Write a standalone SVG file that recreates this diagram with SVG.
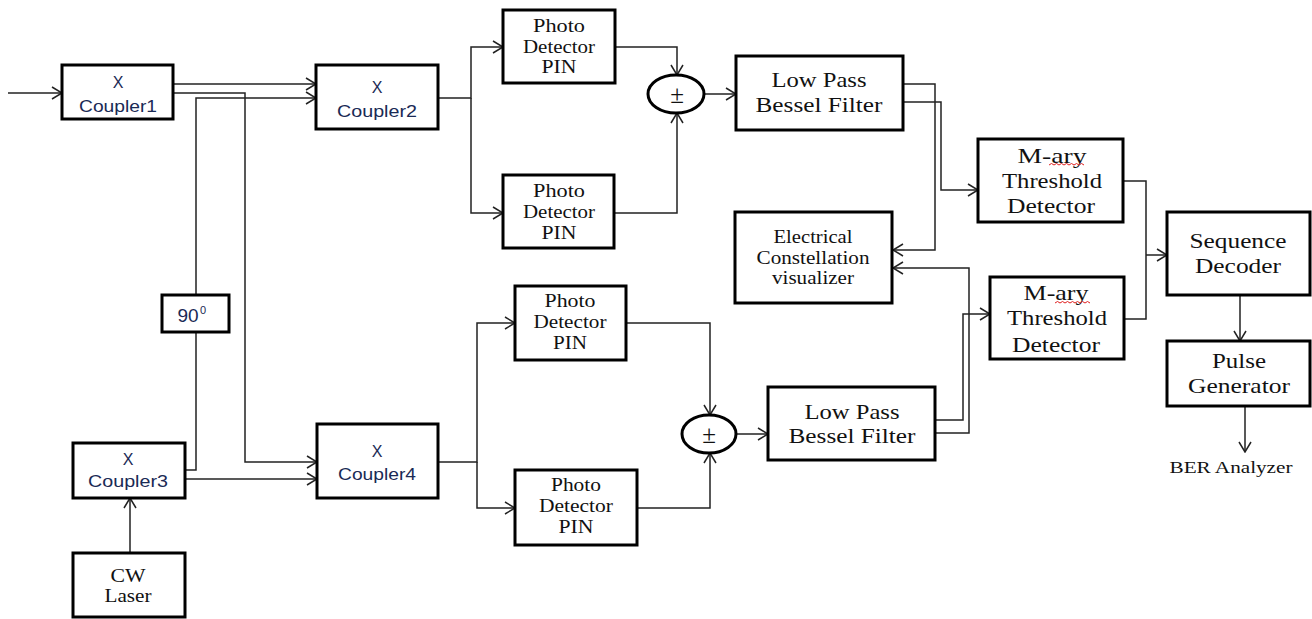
<svg xmlns="http://www.w3.org/2000/svg" width="1312" height="619" viewBox="0 0 1312 619">
<style>
.box{fill:#fff;stroke:#000;stroke-width:3}
.sum{fill:#fff;stroke:#000;stroke-width:3}
.wire{fill:none;stroke:#222;stroke-width:1.5}
.arr{marker-end:url(#ah)}
.sans{font-family:"Liberation Sans",Arial,sans-serif;fill:#1a2a55;text-anchor:middle}
.serif{font-family:"Liberation Serif","Times New Roman",serif;fill:#111;text-anchor:middle}
.sq{fill:none;stroke:#e02020;stroke-width:1}
</style>
<defs>
<marker id="ah" markerUnits="userSpaceOnUse" viewBox="0 0 12 14" markerWidth="12" markerHeight="14" refX="11" refY="7" orient="auto">
<path d="M1,1 L11,7 L1,13" fill="none" stroke="#222" stroke-width="1.5"/>
</marker>
</defs>
<rect width="1312" height="619" fill="#fff"/>

<g id="connectors">
<path class="wire arr" d="M8,93 H62"/>
<path class="wire arr" d="M173,84 H316"/>
<path class="wire arr" d="M173,93 H245 V462 H317"/>
<path class="wire arr" d="M196,295 V98 H316"/>
<path class="wire" d="M196,332 V470 H185"/>
<path class="wire arr" d="M185,479 H317"/>
<path class="wire arr" d="M130,553 V498"/>
<path class="wire arr" d="M438,98 H471 V47 H503"/>
<path class="wire arr" d="M471,98 V213 H503"/>
<path class="wire arr" d="M615,47 H677 V75"/>
<path class="wire arr" d="M614,213 H677 V113"/>
<path class="wire arr" d="M704,94 H736"/>
<path class="wire arr" d="M903,84 H935 V250 H893"/>
<path class="wire arr" d="M903,102 H941 V190 H978"/>
<path class="wire arr" d="M438,462 H477 V323 H515"/>
<path class="wire arr" d="M477,462 V508 H515"/>
<path class="wire arr" d="M626,323 H710 V415"/>
<path class="wire arr" d="M637,508 H710 V453"/>
<path class="wire arr" d="M737,434 H768"/>
<path class="wire arr" d="M935,420 H963 V314 H990"/>
<path class="wire arr" d="M935,433 H969 V268 H893"/>
<path class="wire" d="M1123,181 H1146 V319 H1124"/>
<path class="wire arr" d="M1146,255 H1167"/>
<path class="wire arr" d="M1240,295 V341"/>
<path class="wire arr" d="M1245,406 V452"/>
</g>

<g id="coupler1">
<rect class="box" x="62" y="65" width="111" height="54"/>
<text class="sans" x="118" y="88" font-size="16">X</text>
<text class="sans" x="118" y="112" font-size="17" textLength="78" lengthAdjust="spacingAndGlyphs">Coupler1</text>
</g>
<g id="coupler2">
<rect class="box" x="316" y="65" width="122" height="64"/>
<text class="sans" x="377" y="93" font-size="16">X</text>
<text class="sans" x="377" y="117" font-size="17" textLength="80" lengthAdjust="spacingAndGlyphs">Coupler2</text>
</g>
<g id="phase90">
<rect class="box" x="162" y="295" width="67" height="37"/>
<text class="sans" x="188" y="322" font-size="19">90</text>
<text class="sans" x="203" y="314" font-size="11">0</text>
</g>
<g id="coupler3">
<rect class="box" x="73" y="443" width="112" height="55"/>
<text class="sans" x="128" y="465" font-size="16">X</text>
<text class="sans" x="128" y="487" font-size="17" textLength="80" lengthAdjust="spacingAndGlyphs">Coupler3</text>
</g>
<g id="coupler4">
<rect class="box" x="317" y="424" width="121" height="74"/>
<text class="sans" x="377" y="457" font-size="16">X</text>
<text class="sans" x="377" y="480" font-size="17" textLength="78" lengthAdjust="spacingAndGlyphs">Coupler4</text>
</g>
<g id="cwlaser">
<rect class="box" x="73" y="553" width="112" height="64"/>
<text class="serif" x="128" y="582" font-size="18" textLength="35" lengthAdjust="spacingAndGlyphs">CW</text>
<text class="serif" x="128" y="602" font-size="18" textLength="47" lengthAdjust="spacingAndGlyphs">Laser</text>
</g>

<g id="pd1">
<rect class="box" x="503" y="10" width="112" height="73"/>
<text class="serif" x="559" y="32" font-size="18" textLength="52" lengthAdjust="spacingAndGlyphs">Photo</text>
<text class="serif" x="559" y="53" font-size="18" textLength="72" lengthAdjust="spacingAndGlyphs">Detector</text>
<text class="serif" x="559" y="73" font-size="18" textLength="35" lengthAdjust="spacingAndGlyphs">PIN</text>
</g>
<g id="pd2">
<rect class="box" x="503" y="175" width="111" height="73"/>
<text class="serif" x="559" y="197" font-size="18" textLength="52" lengthAdjust="spacingAndGlyphs">Photo</text>
<text class="serif" x="559" y="218" font-size="18" textLength="72" lengthAdjust="spacingAndGlyphs">Detector</text>
<text class="serif" x="559" y="239" font-size="18" textLength="35" lengthAdjust="spacingAndGlyphs">PIN</text>
</g>
<g id="pd3">
<rect class="box" x="515" y="286" width="111" height="74"/>
<text class="serif" x="570" y="307" font-size="18" textLength="51" lengthAdjust="spacingAndGlyphs">Photo</text>
<text class="serif" x="570" y="328" font-size="18" textLength="73" lengthAdjust="spacingAndGlyphs">Detector</text>
<text class="serif" x="570" y="349" font-size="18" textLength="34" lengthAdjust="spacingAndGlyphs">PIN</text>
</g>
<g id="pd4">
<rect class="box" x="515" y="470" width="122" height="75"/>
<text class="serif" x="576" y="491" font-size="18" textLength="50" lengthAdjust="spacingAndGlyphs">Photo</text>
<text class="serif" x="576" y="512" font-size="18" textLength="74" lengthAdjust="spacingAndGlyphs">Detector</text>
<text class="serif" x="576" y="533" font-size="18" textLength="35" lengthAdjust="spacingAndGlyphs">PIN</text>
</g>

<g id="sum1">
<ellipse class="sum" cx="676" cy="94" rx="28" ry="19"/>
<text class="serif" x="677" y="103" font-size="25">±</text>
</g>
<g id="sum2">
<ellipse class="sum" cx="709" cy="434" rx="27" ry="19"/>
<text class="serif" x="709" y="443" font-size="25">±</text>
</g>

<g id="lpf1">
<rect class="box" x="736" y="56" width="167" height="74"/>
<text class="serif" x="819" y="87" font-size="21" textLength="95" lengthAdjust="spacingAndGlyphs">Low Pass</text>
<text class="serif" x="819" y="112" font-size="21" textLength="127" lengthAdjust="spacingAndGlyphs">Bessel Filter</text>
</g>
<g id="lpf2">
<rect class="box" x="768" y="387" width="167" height="73"/>
<text class="serif" x="852" y="419" font-size="21" textLength="95" lengthAdjust="spacingAndGlyphs">Low Pass</text>
<text class="serif" x="852" y="443" font-size="21" textLength="127" lengthAdjust="spacingAndGlyphs">Bessel Filter</text>
</g>
<g id="ecv">
<rect class="box" x="735" y="212" width="157" height="91"/>
<text class="serif" x="813" y="243" font-size="18" textLength="79" lengthAdjust="spacingAndGlyphs">Electrical</text>
<text class="serif" x="813" y="264" font-size="18" textLength="113" lengthAdjust="spacingAndGlyphs">Constellation</text>
<text class="serif" x="813" y="284" font-size="18" textLength="82" lengthAdjust="spacingAndGlyphs">visualizer</text>
</g>
<g id="mary1">
<rect class="box" x="978" y="139" width="145" height="83"/>
<text class="serif" x="1052" y="163" font-size="21" textLength="69" lengthAdjust="spacingAndGlyphs">M-ary</text>
<text class="serif" x="1052" y="188" font-size="21" textLength="100" lengthAdjust="spacingAndGlyphs">Threshold</text>
<text class="serif" x="1051" y="213" font-size="21" textLength="88" lengthAdjust="spacingAndGlyphs">Detector</text>
<path class="sq" d="M1049,165 l2.5,-1.5 l2.5,1.5 l2.5,-1.5 l2.5,1.5 l2.5,-1.5 l2.5,1.5 l2.5,-1.5 l2.5,1.5 l2.5,-1.5 l2.5,1.5 l2.5,-1.5 l2.5,1.5 l2.5,-1.5 l2.5,1.5"/>
</g>
<g id="mary2">
<rect class="box" x="990" y="277" width="134" height="82"/>
<text class="serif" x="1056" y="300" font-size="21" textLength="65" lengthAdjust="spacingAndGlyphs">M-ary</text>
<text class="serif" x="1057" y="325" font-size="21" textLength="100" lengthAdjust="spacingAndGlyphs">Threshold</text>
<text class="serif" x="1056" y="352" font-size="21" textLength="88" lengthAdjust="spacingAndGlyphs">Detector</text>
<path class="sq" d="M1055,303 l2.5,-1.5 l2.5,1.5 l2.5,-1.5 l2.5,1.5 l2.5,-1.5 l2.5,1.5 l2.5,-1.5 l2.5,1.5 l2.5,-1.5 l2.5,1.5 l2.5,-1.5 l2.5,1.5 l2.5,-1.5 l2.5,1.5"/>
</g>
<g id="seqdecoder">
<rect class="box" x="1167" y="212" width="143" height="83"/>
<text class="serif" x="1238" y="248" font-size="20" textLength="97" lengthAdjust="spacingAndGlyphs">Sequence</text>
<text class="serif" x="1238" y="273" font-size="20" textLength="86" lengthAdjust="spacingAndGlyphs">Decoder</text>
</g>
<g id="pulsegen">
<rect class="box" x="1167" y="341" width="143" height="65"/>
<text class="serif" x="1239" y="368" font-size="21" textLength="54" lengthAdjust="spacingAndGlyphs">Pulse</text>
<text class="serif" x="1239" y="393" font-size="21" textLength="102" lengthAdjust="spacingAndGlyphs">Generator</text>
</g>
<g id="ber">
<text class="serif" x="1231" y="473" font-size="16" textLength="123" lengthAdjust="spacingAndGlyphs">BER Analyzer</text>
</g>
</svg>
